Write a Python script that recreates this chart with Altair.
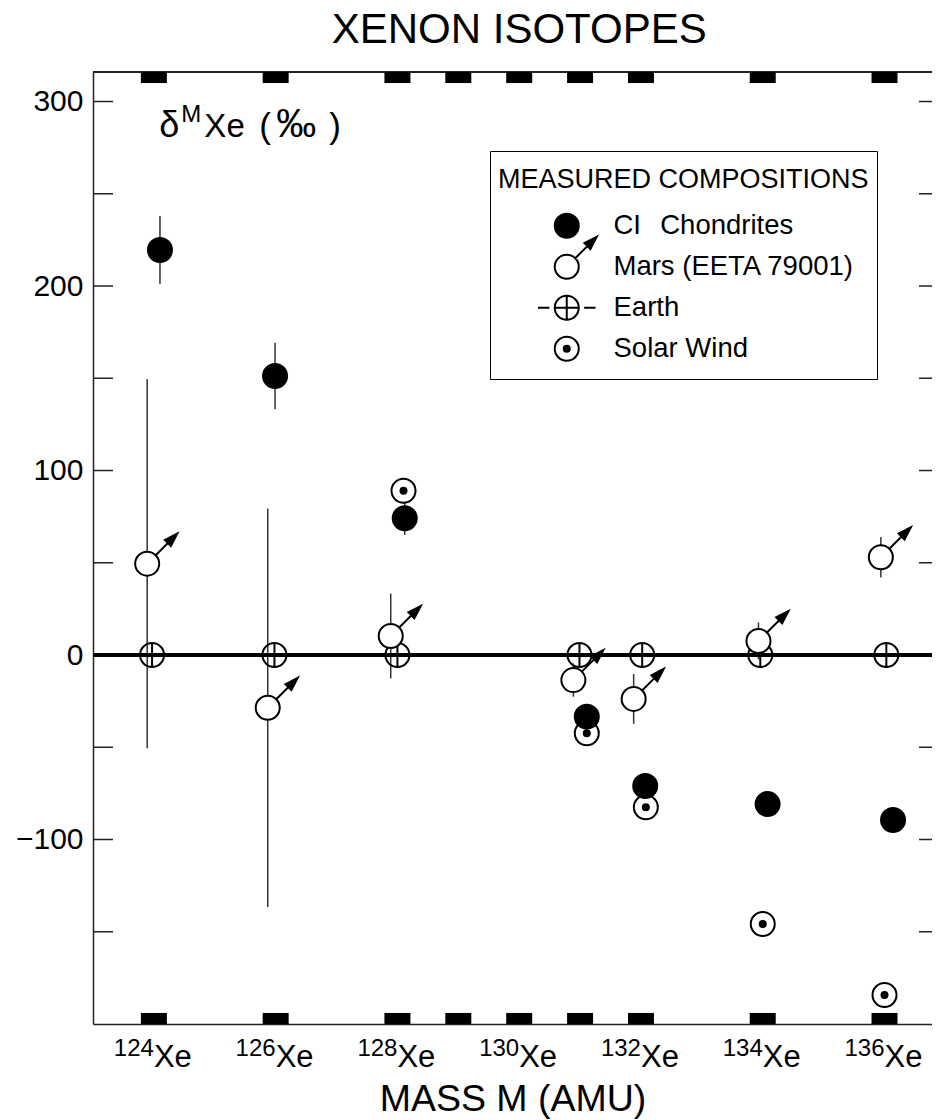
import altair as alt
import pandas as pd

FONT = "Liberation Sans"

# ---------------- data ----------------
iso_masses = [124, 126, 128, 129, 130, 131, 132, 134, 136]
label_masses = [124, 126, 128, 130, 132, 134, 136]
label_nums = ["124", "126", "128", "130", "132", "134", "136"]
tick_vals = [-150, -100, -50, 0, 50, 100, 150, 200, 250, 300]
label_vals = [-100, 0, 100, 200, 300]

series_order = ["CI\u2002\u2009Chondrites", "Mars (EETA 79001)", "Earth", "Solar Wind"]

ci_x = [124.10, 125.99, 128.12, 131.11, 132.07, 134.08, 136.14]
ci_y = [219.5, 151.2, 74.1, -33.4, -71.0, -80.8, -89.4]
ci_err = [18.4, 18.0, 9.0, 0, 0, 0, 0]

mars_x = [123.89, 125.87, 127.89, 130.89, 131.88, 133.93, 135.94]
mars_y = [49.5, -28.6, 10.3, -13.6, -23.8, 7.6, 53.0]
mars_err = [100, 108, 23, 9, 13.5, 10, 11]

earth_x = [123.97, 125.98, 128.00, 130.99, 132.02, 133.96, 136.03]
earth_y = [0, 0, 0, 0, 0, 0, 0]

sw_x = [128.10, 131.11, 132.08, 134.00, 136.00]
sw_y = [89.0, -42.4, -82.5, -145.8, -184.3]

XMIN, XMAX = 123.0, 136.78
YMIN, YMAX = -200, 316

# ---------------- symbols (unit paths) ----------------
CIRC = "M-1,0A1,1,0,1,1,1,0A1,1,0,1,1,-1,0Z"
EQ = "M2.55,-2.55M-2.55,1.5"  # bounds equalizer (no ink)
P_CI = EQ + CIRC
P_MARS = (EQ + CIRC + "M0.707,-0.707L1.75,-1.75"
          "M2.5,-2.5L1.969,-1.475L1.475,-1.969Z"
          "M2.5,-2.5L1.722,-1.722M2.5,-2.5L1.846,-1.599M2.5,-2.5L1.599,-1.846")
P_EARTH = (EQ + CIRC + "M-1,0L1,0M0,-1L0,1"
           "M-2.4,0L-1.45,0M1.45,0L2.4,0")
P_SW = (EQ + CIRC +
        "M-0.25,0A0.25,0.25,0,1,1,0.25,0A0.25,0.25,0,1,1,-0.25,0Z"
        "M-0.1,0A0.1,0.1,0,1,1,0.1,0A0.1,0.1,0,1,1,-0.1,0Z")
shape_range = [P_CI, P_MARS, P_EARTH, P_SW]
fill_range = ["black", "white", "transparent", "white"]
stroke_range = ["black", "black", "black", "black"]

# ---------------- tables ----------------
pts = pd.DataFrame({
    "x": earth_x + sw_x + ci_x + mars_x,
    "y": earth_y + sw_y + ci_y + mars_y,
    "series": ["Earth"] * len(earth_x) + ["Solar Wind"] * len(sw_x)
              + [series_order[0]] * len(ci_x) + [series_order[1]] * len(mars_x),
})
err_rows = []
for xs_, ys_, es_ in ((mars_x, mars_y, mars_err), (ci_x, ci_y, ci_err)):
    for a, b, e in zip(xs_, ys_, es_):
        if e > 0:
            err_rows.append({"x": a, "lo": b - e, "hi": b + e})
errs = pd.DataFrame(err_rows)
iso = pd.DataFrame({"m": iso_masses})
ticks = pd.DataFrame({"v": tick_vals})
labs = pd.DataFrame({"m": label_masses, "t": label_nums})
anno = pd.DataFrame({"x": [124.09], "y": [280.9]})
ttl = pd.DataFrame({"x": [130.0], "y": [YMAX]})

xs = alt.Scale(domain=[XMIN, XMAX], nice=False, zero=False)
ys = alt.Scale(domain=[YMIN, YMAX], nice=False, zero=False)
xaxis = alt.Axis(labels=False, ticks=False, grid=False, domainColor="#222",
                 domainWidth=1.5, title="MASS M (AMU)", titleFont=FONT,
                 titleFontSize=37.5, titleFontWeight="normal", titleColor="black",
                 titleBaseline="alphabetic", titleY=86)
yaxis = alt.Axis(values=label_vals, ticks=False, grid=False, domainColor="#222",
                 domainWidth=1.5, labelFont=FONT, labelFontSize=30,
                 labelColor="black", labelPadding=10, title=None)


def X(f):
    return alt.X(f, type="quantitative", scale=xs, axis=xaxis)


def Y(f):
    return alt.Y(f, type="quantitative", scale=ys, axis=yaxis)


def YD(v):
    return alt.YDatum(v, type="quantitative", scale=ys, axis=yaxis)


def XD(v):
    return alt.XDatum(v, type="quantitative", scale=xs, axis=xaxis)


top_line = alt.Chart(iso).mark_rule(color="#222", strokeWidth=1.5).encode(y=YD(YMAX))

sq_top = alt.Chart(iso).mark_point(
    shape="M-1,0H1V0.85H-1Z", filled=True, color="black", opacity=1,
    size=676, strokeWidth=0).encode(x=X("m"), y=YD(YMAX))
sq_bot = alt.Chart(iso).mark_point(
    shape="M-1,-0.85H1V0H-1Z", filled=True, color="black", opacity=1,
    size=676, strokeWidth=0).encode(x=X("m"), y=YD(YMIN))

tick_l = alt.Chart(ticks).mark_point(
    shape="M0,0H2", filled=False, color="#222", opacity=1, size=400,
    strokeWidth=1.5).encode(x=XD(XMIN), y=Y("v"))
tick_r = alt.Chart(ticks).mark_point(
    shape="M0,0H-1.3", filled=False, color="#222", opacity=1, size=400,
    strokeWidth=1.5).encode(x=XD(XMAX), y=Y("v"))

bars = alt.Chart(errs).mark_rule(color="#333", strokeWidth=1.5).encode(
    x=X("x"), y=Y("lo"), y2="hi")

zero = alt.Chart(iso).mark_rule(color="black", strokeWidth=3).encode(y=YD(0))

leg = alt.Legend(
    orient="none", legendX=397, legendY=79, title="MEASURED COMPOSITIONS",
    titleFont=FONT, titleFontSize=27, titleFontWeight="normal",
    titleColor="black", titleLimit=600, titleBaseline="line-top",
    titleLineHeight=42, titlePadding=26,
    labelFont=FONT, labelFontSize=27.5, labelColor="black", labelLimit=600,
    labelOffset=33, symbolOffset=55, symbolSize=576,
    symbolStrokeWidth=2, symbolOpacity=1,
    rowPadding=-16, padding=8, strokeColor="black", cornerRadius=0)

points = alt.Chart(pts).mark_point(
    filled=True, strokeWidth=2, opacity=1, size=576).encode(
    x=X("x"), y=Y("y"),
    fill=alt.Fill("series:N", scale=alt.Scale(domain=series_order, range=fill_range), legend=leg),
    stroke=alt.Stroke("series:N", scale=alt.Scale(domain=series_order, range=stroke_range), legend=leg),
    shape=alt.Shape("series:N", scale=alt.Scale(domain=series_order, range=shape_range), legend=leg),
)

sup = alt.Chart(labs).mark_text(
    align="right", baseline="alphabetic", font=FONT, fontSize=24,
    color="black", dy=32).encode(x=X("m"), y=YD(YMIN), text="t:N")
xe = alt.Chart(labs).mark_text(
    align="left", baseline="alphabetic", font=FONT, fontSize=31,
    color="black", dy=43).encode(x=X("m"), y=YD(YMIN), text=alt.value("Xe"))


def anno_text(t, size, dx, dy=0):
    return alt.Chart(anno).mark_text(
        align="left", baseline="alphabetic", font=FONT, fontSize=size,
        color="black", dx=dx, dy=dy).encode(x=X("x"), y=Y("y"), text=alt.value(t))


a1 = anno_text("\u03b4", 36, 0)
a2 = anno_text("M", 24, 22, -15)
a3 = anno_text("Xe", 33, 45)
a4 = anno_text("(", 35, 100, 1)
a5 = anno_text("\u2030", 40, 117)
a6 = anno_text(")", 35, 170, 1)

title = alt.Chart(ttl).mark_text(
    align="center", baseline="alphabetic", font=FONT, fontSize=42,
    color="black", dy=-29).encode(x=X("x"), y=Y("y"), text=alt.value("XENON ISOTOPES"))

chart = alt.layer(
    top_line, sq_top, sq_bot, tick_l, tick_r, bars, zero, points, sup, xe,
    a1, a2, a3, a4, a5, a6, title
).properties(
    width=839, height=952,
    autosize=alt.AutoSizeParams(type="none"),
    padding={"left": 85, "top": 64, "right": 0, "bottom": 96},
).configure(font=FONT).configure_view(strokeWidth=0)

chart.save("out.html", embed_options={"renderer": "svg", "actions": False})
